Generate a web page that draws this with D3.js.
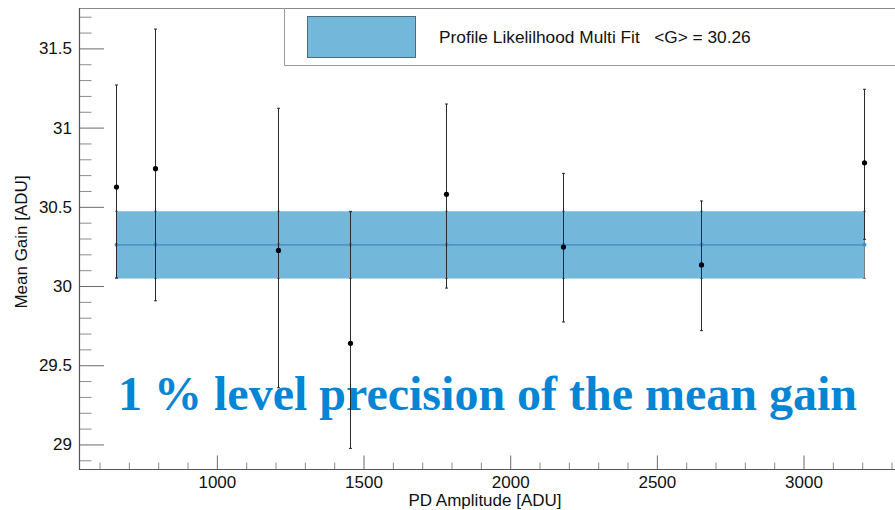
<!DOCTYPE html>
<html>
<head>
<meta charset="utf-8">
<script src="https://cdn.jsdelivr.net/npm/d3@7"></script>
<style>
  html, body { margin: 0; padding: 0; background: #fff; }
  svg { display: block; }
  text { font-family: "Liberation Sans", Arial, Helvetica, sans-serif; }
</style>
</head>
<body>
<svg id="chart" width="895" height="510"></svg>
<script>
// PD amplitude of each measurement [ADU]
const pdAmplitude = [657, 789, 1209, 1455, 1781, 2180, 2650, 3207];
// Mean gain fitted at each amplitude [ADU]
const meanGain = [30.625, 30.741, 30.225, 29.638, 30.579, 30.246, 30.133, 30.778];
// Asymmetric uncertainties on the mean gain
const errUp   = [0.644, 0.881, 0.897, 0.831, 0.570, 0.465, 0.404, 0.464];
const errDown = [0.573, 0.834, 0.867, 0.663, 0.592, 0.473, 0.415, 0.483];

// Combined profile likelihood result
const combinedGain = 30.26;
const combinedErr = 0.212;

const xMajorTicks = [1000, 1500, 2000, 2500, 3000];
const yMajorTicks = [29, 29.5, 30, 30.5, 31, 31.5];

const legendLabel = "Profile Likelilhood Multi Fit   <G> = 30.26";
const annotation = "1 % level precision of the mean gain";

const svg = d3.select("#chart");
const W = 895, H = 510;
const plot = { left: 79, right: 900, top: 8, bottom: 469 };

svg.append("rect").attr("width", W).attr("height", H).attr("fill", "#fff");

const x = d3.scaleLinear().domain([530, 3330]).range([plot.left, plot.left + (3330 - 530) * 0.29333]);
const y = d3.scaleLinear().domain([28.845, 31.755]).range([plot.bottom, plot.top]);

const xMinorTicks = d3.range(600, 3400, 100).filter(v => !xMajorTicks.includes(v));
const yMinorTicks = d3.range(28.9, 31.75, 0.1).map(v => +v.toFixed(1)).filter(v => !yMajorTicks.includes(v));

const dataIdx = d3.range(pdAmplitude.length);

// Fit band
const bandColor = "#73b7da";
const bandArea = d3.area()
  .x(i => x(pdAmplitude[i]))
  .y0(() => y(combinedGain - combinedErr))
  .y1(() => y(combinedGain + combinedErr));
svg.append("path").datum(dataIdx).attr("d", bandArea).attr("fill", bandColor);

// Band centre line
svg.append("path").datum(dataIdx)
  .attr("d", d3.line().x(i => x(pdAmplitude[i])).y(() => y(combinedGain)))
  .attr("fill", "none").attr("stroke", "#4f97c3").attr("stroke-width", 1.6);

// Band error bars
const bandBars = svg.append("g").attr("stroke", "#5a6670").attr("stroke-width", 1).attr("stroke-opacity", 0.8);
dataIdx.forEach(i => {
  const cx = Math.round(x(pdAmplitude[i])) + 0.5;
  bandBars.append("line").attr("x1", cx).attr("x2", cx)
    .attr("y1", y(combinedGain - combinedErr)).attr("y2", y(combinedGain + combinedErr));
  [combinedGain - combinedErr, combinedGain + combinedErr].forEach(v => {
    bandBars.append("line").attr("x1", cx - 1.5).attr("x2", cx + 1.5).attr("y1", y(v)).attr("y2", y(v));
  });
});
svg.append("g").selectAll("circle").data(dataIdx).join("circle")
  .attr("cx", i => Math.round(x(pdAmplitude[i])) + 0.5)
  .attr("cy", y(combinedGain)).attr("r", 2).attr("fill", "#3d8ec9");

// Annotation text
svg.append("text")
  .attr("x", 118).attr("y", 409.5)
  .attr("fill", "#0585d3")
  .style("font-family", "'Liberation Serif', 'Times New Roman', serif")
  .style("font-weight", "bold")
  .style("font-size", "48px")
  .text(annotation);

// Measurement error bars and points
const bars = svg.append("g").attr("stroke", "#2a2a2a").attr("stroke-width", 1);
dataIdx.forEach(i => {
  const cx = Math.round(x(pdAmplitude[i])) + 0.5;
  const hi = y(meanGain[i] + errUp[i]);
  const lo = y(meanGain[i] - errDown[i]);
  bars.append("line").attr("x1", cx).attr("x2", cx).attr("y1", hi).attr("y2", lo);
  bars.append("line").attr("x1", cx - 1.5).attr("x2", cx + 1.5).attr("y1", hi).attr("y2", hi);
  bars.append("line").attr("x1", cx - 1.5).attr("x2", cx + 1.5).attr("y1", lo).attr("y2", lo);
});
svg.append("g").selectAll("circle").data(dataIdx).join("circle")
  .attr("cx", i => Math.round(x(pdAmplitude[i])) + 0.5)
  .attr("cy", i => y(meanGain[i])).attr("r", 2.6).attr("fill", "#000");

// Frame top
svg.append("line").attr("x1", plot.left).attr("x2", W).attr("y1", plot.top + 0.5).attr("y2", plot.top + 0.5)
  .attr("stroke", "#8a8a8a").attr("stroke-width", 1);

// Axes
const axisColor = "#555";
const gx = svg.append("g").attr("transform", `translate(0,${plot.bottom})`)
  .call(d3.axisBottom(x).tickValues(xMajorTicks).tickSize(-13.5).tickPadding(7).tickFormat(d3.format("d")));
const gxMinor = svg.append("g").attr("transform", `translate(0,${plot.bottom})`)
  .call(d3.axisBottom(x).tickValues(xMinorTicks).tickSize(-6.5).tickFormat(""));
const gy = svg.append("g").attr("transform", `translate(${plot.left},0)`)
  .call(d3.axisLeft(y).tickValues(yMajorTicks).tickSize(-25).tickPadding(7).tickFormat(d => String(d)));
const gyMinor = svg.append("g").attr("transform", `translate(${plot.left},0)`)
  .call(d3.axisLeft(y).tickValues(yMinorTicks).tickSize(-12.5).tickFormat(""));

[gx, gxMinor, gy, gyMinor].forEach(g => {
  g.select(".domain").remove();
  g.selectAll(".tick line").attr("stroke", "#6a6a6a");
  g.selectAll(".tick text").attr("fill", "#111").style("font-size", "17px")
    .style("font-family", "'Liberation Sans', Arial, sans-serif");
});
gyMinor.selectAll(".tick line").attr("stroke", "#8c8c8c");
gxMinor.selectAll(".tick line").attr("stroke", "#8c8c8c");

svg.append("line").attr("x1", plot.left).attr("x2", W).attr("y1", plot.bottom + 0.5).attr("y2", plot.bottom + 0.5)
  .attr("stroke", axisColor).attr("stroke-width", 1.2);
svg.append("line").attr("x1", plot.left + 0.5).attr("x2", plot.left + 0.5).attr("y1", plot.top).attr("y2", plot.bottom + 1)
  .attr("stroke", axisColor).attr("stroke-width", 1.2);

// Axis titles
svg.append("text").attr("x", 485).attr("y", 506).attr("text-anchor", "middle")
  .attr("fill", "#111").style("font-size", "17px").text("PD Amplitude [ADU]");
svg.append("text").attr("transform", "translate(27,242) rotate(-90)").attr("text-anchor", "middle")
  .attr("fill", "#111").style("font-size", "17px").text("Mean Gain [ADU]");

// Legend
const legend = svg.append("g");
legend.append("path").attr("d", `M284.5,${plot.top} V65.5 H${W}`)
  .attr("fill", "none").attr("stroke", "#9a9a9a").attr("stroke-width", 1);
legend.append("rect").attr("x", 307.5).attr("y", 16.5).attr("width", 108).attr("height", 41)
  .attr("fill", bandColor).attr("stroke", "#4c6a80").attr("stroke-width", 1);
legend.append("text").attr("x", 439).attr("y", 43).attr("fill", "#111")
  .style("font-size", "17.3px").style("white-space", "pre").attr("xml:space", "preserve")
  .text(legendLabel);
</script>
</body>
</html>
